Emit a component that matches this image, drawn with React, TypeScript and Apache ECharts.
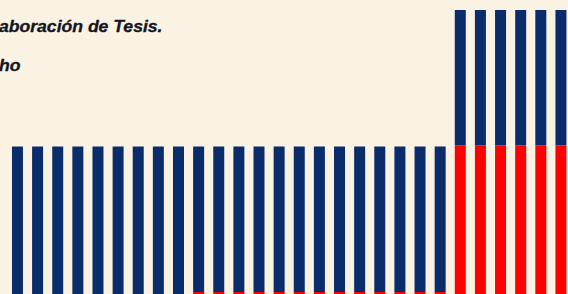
import React, { useEffect, useRef } from "react";
import * as echarts from "echarts";

const categories = [
  "1", "2", "3", "4", "5", "6", "7", "8", "9", "10", "11", "12", "13", "14",
  "15", "16", "17", "18", "19", "20", "21", "22", "23", "24", "25", "26", "27", "28",
];
const redValues = [
  0, 0, 0, 0, 0, 0, 0, 0, 0, 0.7, 0.7, 0.7, 0.7, 0.7,
  0.7, 0.7, 0.7, 0.7, 0.7, 0.7, 0.7, 0.7, 52.3, 52.3, 52.3, 52.3, 52.3, 52.3,
];
const navyValues = [
  51.9, 51.9, 51.9, 51.9, 51.9, 51.9, 51.9, 51.9, 51.9, 51.2, 51.2, 51.2, 51.2, 51.2,
  51.2, 51.2, 51.2, 51.2, 51.2, 51.2, 51.2, 51.2, 47.7, 47.7, 47.7, 47.7, 47.7, 47.7,
];
const captionLines = ["aboración de Tesis.", "ho"];

export default function App() {
  const ref = useRef<HTMLDivElement>(null);
  useEffect(() => {
    if (!ref.current) return;
    const chart = echarts.init(ref.current, undefined, { renderer: "svg" });
    const textStyle = (t: string) => ({
      text: t,
      font: "italic bold 16px 'Liberation Sans', Arial, sans-serif",
      fill: "#141422",
      stroke: "#141422",
      lineWidth: 0.3,
    });
    chart.setOption({
      animation: false,
      backgroundColor: "#FAF2E2",
      grid: { left: 7.4, right: 9, top: 10, bottom: 0, containLabel: false },
      xAxis: {
        type: "category",
        data: categories,
        show: false,
      },
      yAxis: { type: "value", min: 0, max: 100, show: false },
      series: [
        {
          type: "bar",
          stack: "a",
          data: redValues,
          barWidth: 11,
          itemStyle: { color: "#FF0000" },
        },
        {
          type: "bar",
          stack: "a",
          data: navyValues,
          barWidth: 11,
          itemStyle: { color: "#0B2C6B" },
        },
      ],
      graphic: [
        {
          type: "text",
          x: -1,
          y: 19,
          scaleX: 1.1,
          style: textStyle(captionLines[0]),
        },
        {
          type: "text",
          x: -1,
          y: 58,
          scaleX: 1.1,
          style: textStyle(captionLines[1]),
        },
      ],
    });
    return () => chart.dispose();
  }, []);
  return (
    <div style={{ position: "fixed", left: 0, top: 0, width: 568, height: 294, overflow: "hidden", background: "#FAF2E2" }}>
      <div ref={ref} style={{ width: 580, height: 294 }} />
    </div>
  );
}
